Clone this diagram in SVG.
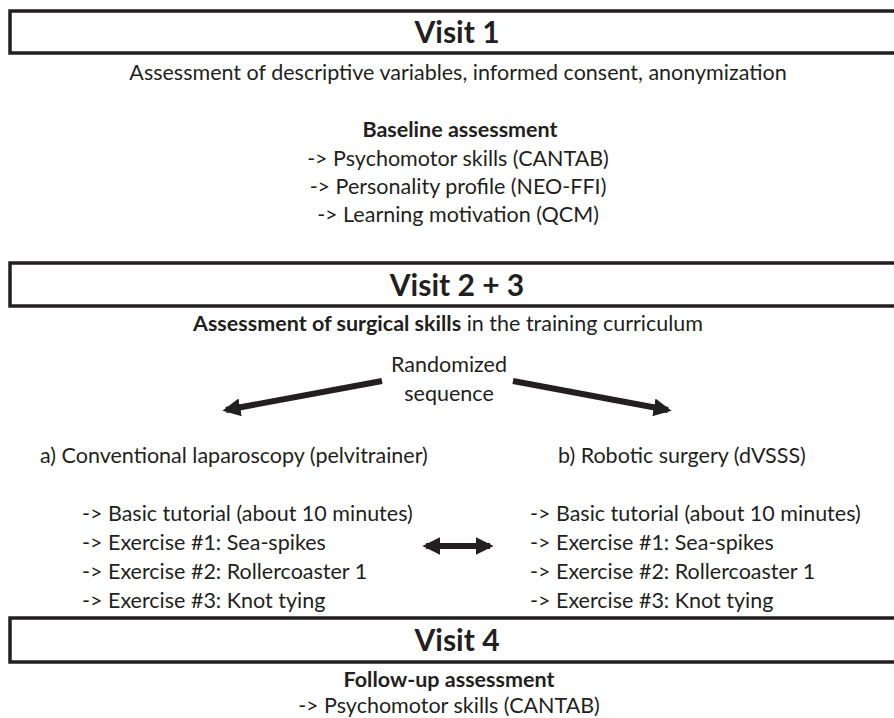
<svg xmlns="http://www.w3.org/2000/svg" width="894" height="718" viewBox="0 0 894 718">
<defs>
<style>
text{font-family:Lato,"Open Sans","Liberation Sans",sans-serif;fill:#231f20;font-size:21.5px}
.c{text-anchor:middle}
.h{font-size:30px;font-weight:bold}
.b{font-weight:bold}
.box{fill:#fff;stroke:#231f20;stroke-width:3.5}
.ar{stroke:#231f20;stroke-width:6;fill:none}
.hd{fill:#231f20}
</style>
<marker id="ah" viewBox="0 0 10 10" refX="8" refY="5" markerWidth="18" markerHeight="18" markerUnits="userSpaceOnUse" orient="auto-start-reverse"><path d="M0,0 L10,5 L0,10 z" class="hd"/></marker>
</defs>
<rect width="894" height="718" fill="#fff"/>
<g id="visit1">
<rect class="box" x="10" y="11" width="900" height="42"/>
<text class="c h" x="457" y="43">Visit 1</text>
<text class="c" x="458" y="80">Assessment of descriptive variables, informed consent, anonymization</text>
</g>
<g id="baseline">
<text class="c b" x="460" y="137">Baseline assessment</text>
<text class="c" x="458" y="166">-&gt; Psychomotor skills (CANTAB)</text>
<text class="c" x="458" y="194">-&gt; Personality profile (NEO-FFI)</text>
<text class="c" x="458" y="222">-&gt; Learning motivation (QCM)</text>
</g>
<g id="visit23">
<rect class="box" x="10" y="263" width="900" height="43"/>
<text class="c h" x="457" y="296">Visit 2 + 3</text>
<text class="c" x="448" y="331"><tspan class="b">Assessment of surgical skills</tspan> in the training curriculum</text>
</g>
<g id="random">
<text class="c" x="449" y="372">Randomized</text>
<text class="c" x="449" y="401">sequence</text>
</g>
<g id="armA">
<text x="40" y="463">a) Conventional laparoscopy (pelvitrainer)</text>
<text x="82" y="521">-&gt; Basic tutorial (about 10 minutes)</text>
<text x="82" y="550">-&gt; Exercise #1: Sea-spikes</text>
<text x="82" y="579">-&gt; Exercise #2: Rollercoaster 1</text>
<text x="82" y="608">-&gt; Exercise #3: Knot tying</text>
</g>
<g id="armB">
<text x="558" y="463">b) Robotic surgery (dVSSS)</text>
<text x="530" y="521">-&gt; Basic tutorial (about 10 minutes)</text>
<text x="530" y="550">-&gt; Exercise #1: Sea-spikes</text>
<text x="530" y="579">-&gt; Exercise #2: Rollercoaster 1</text>
<text x="530" y="608">-&gt; Exercise #3: Knot tying</text>
</g>
<g id="visit4">
<rect class="box" x="10" y="618" width="900" height="44"/>
<text class="c h" x="457" y="651">Visit 4</text>
<text class="c b" x="449" y="687">Follow-up assessment</text>
<text class="c" x="449" y="713">-&gt; Psychomotor skills (CANTAB)</text>
</g>
<g id="connectors">
<line class="ar" x1="382" y1="381" x2="226" y2="410" marker-end="url(#ah)"/>
<line class="ar" x1="513" y1="381" x2="668" y2="410" marker-end="url(#ah)"/>
<line class="ar" x1="426" y1="546" x2="490" y2="546" marker-start="url(#ah)" marker-end="url(#ah)"/>
</g>
</svg>
